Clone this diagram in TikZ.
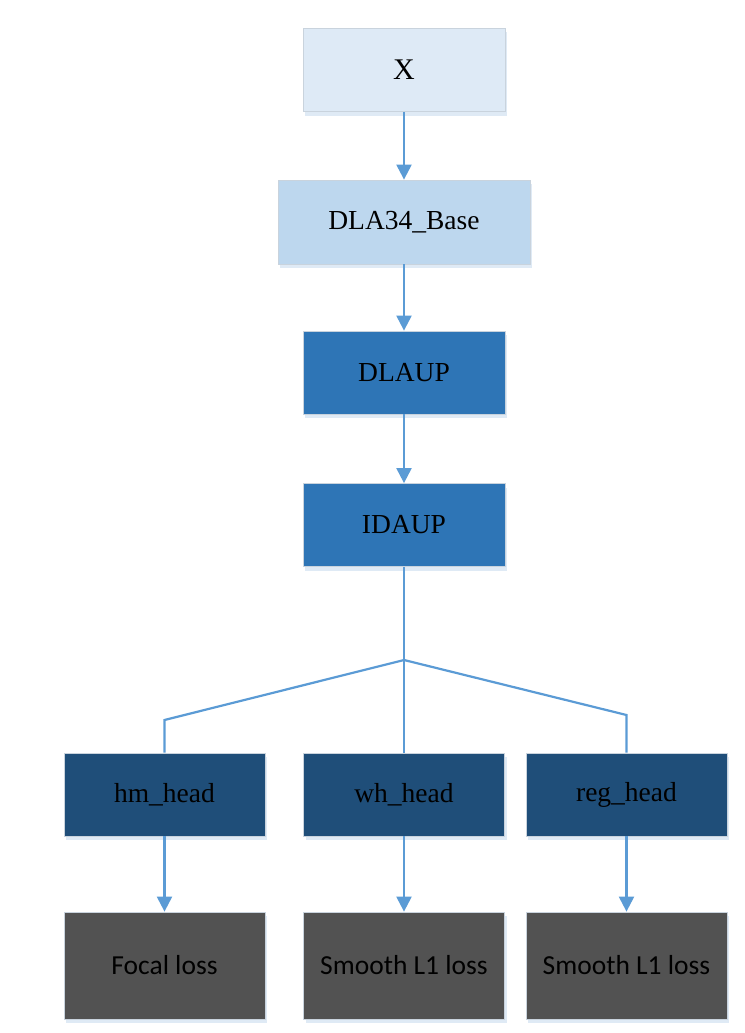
\documentclass[tikz,border=0pt]{standalone}
\usepackage{fontspec}
\setmainfont{Liberation Serif}
\newfontfamily\calfont{Carlito}
\usetikzlibrary{arrows.meta,shadows}
\definecolor{cX}{HTML}{DEEAF6}
\definecolor{cBase}{HTML}{BDD7EE}
\definecolor{cUp}{HTML}{2E75B6}
\definecolor{cHead}{HTML}{1F4E79}
\definecolor{cLoss}{HTML}{525252}
\definecolor{cLine}{HTML}{5B9BD5}
\definecolor{cBord}{HTML}{C9D3DD}
\definecolor{cShadow}{HTML}{DCE8F4}
\tikzset{
  box/.style={rectangle, draw=cBord, line width=0.8pt, inner sep=0pt,
    text=black, font=\fontsize{27.5}{30}\selectfont,
    drop shadow={shadow xshift=2pt, shadow yshift=-4pt, fill=cShadow, opacity=0.9}},
  topbox/.style={box, minimum width=202pt, minimum height=83pt},
  headbox/.style={box, fill=cHead, minimum width=201pt, minimum height=83pt},
  lossbox/.style={box, fill=cLoss, minimum width=201pt, minimum height=107pt, font=\calfont\fontsize{27.5}{30}\selectfont},
  conn/.style={draw=cLine, line width=2.2pt},
  arr/.style={conn, -{Triangle[width=15pt,length=15pt]}}
}
\begin{document}
\begin{tikzpicture}[x=1pt,y=-1pt]
\useasboundingbox (0,0) rectangle (744,1033);
\node[topbox, fill=cX, font=\fontsize{30}{32}\selectfont] (x) at (404,70) {X};
\node[box, fill=cBase, minimum width=252pt, minimum height=84pt] (base) at (404,222) {DLA34\_Base};
\node[topbox, fill=cUp] (dlaup) at (404,372.5) {DLAUP};
\node[topbox, fill=cUp] (idaup) at (404,525) {IDAUP};
\node[headbox] (hm) at (164.5,794.5) {hm\_head};
\node[headbox] (wh) at (404,794.5) {wh\_head};
\node[headbox] (reg) at (626.5,794.5) {reg\_head};
\node[lossbox] (l1) at (164.5,965.5) {Focal loss};
\node[lossbox] (l2) at (404,965.5) {Smooth L1 loss};
\node[lossbox] (l3) at (626.5,965.5) {Smooth L1 loss};
\draw[arr] (x) -- (base);
\draw[arr] (base) -- (dlaup);
\draw[arr] (dlaup) -- (idaup);
\coordinate (br) at (404,660);
\coordinate (hl) at (164.5,720);
\coordinate (hr) at (626.5,715);
\draw[conn] (idaup) -- (br) -- (wh);
\draw[conn] (br) -- (hl) -- (hm);
\draw[conn] (br) -- (hr) -- (reg);
\draw[arr] (hm) -- (l1);
\draw[arr] (wh) -- (l2);
\draw[arr] (reg) -- (l3);
\end{tikzpicture}
\end{document}
